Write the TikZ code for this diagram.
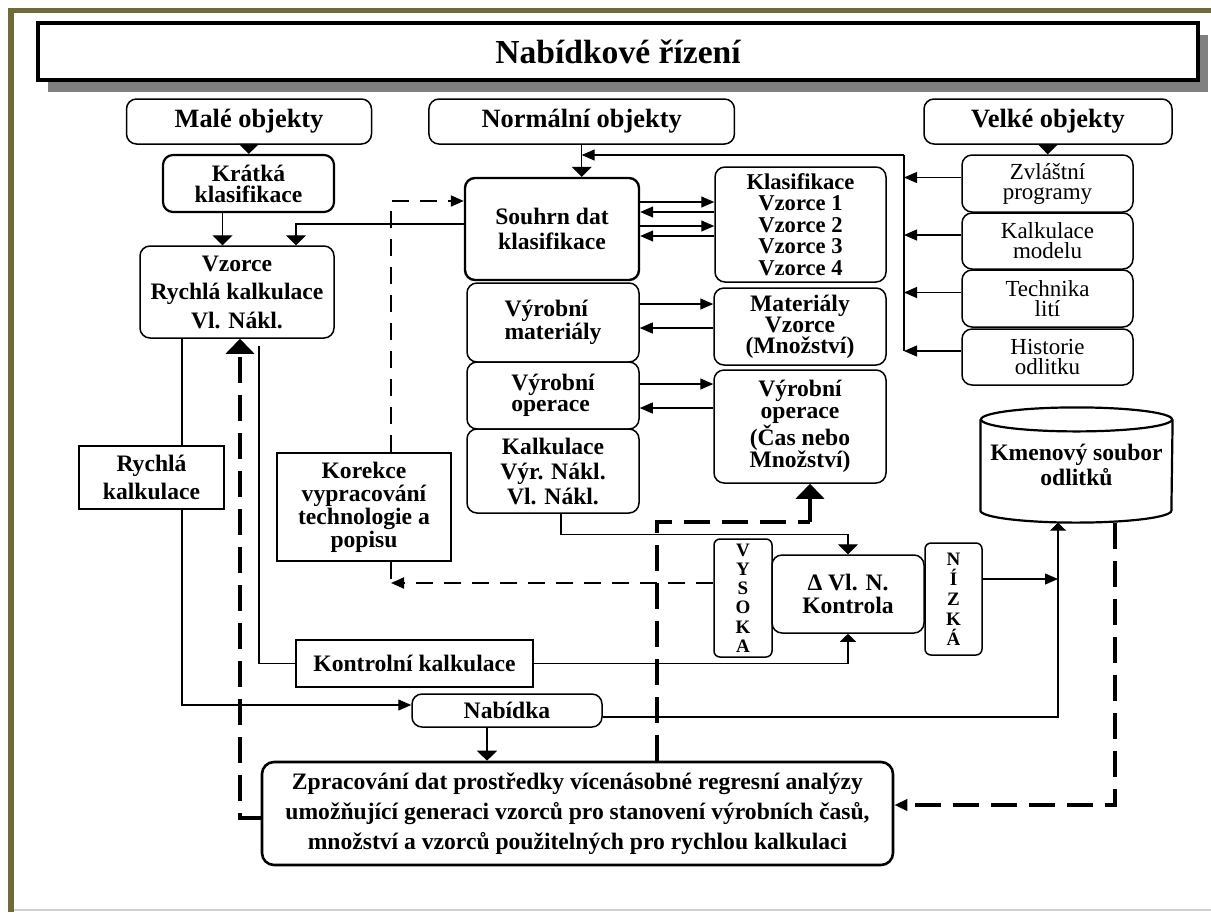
\documentclass[tikz,border=0pt]{standalone}
\usepackage{fontspec}
\setmainfont{Liberation Serif}
\usetikzlibrary{arrows.meta,shadows}
\definecolor{framegreen}{RGB}{110,107,56}

\begin{document}
\begin{tikzpicture}[x=0.5pt, y=-0.5pt, line width=0.6pt,
    bx/.style={draw, line width=0.75pt, align=center, inner sep=1pt,
      font=\bfseries\fontsize{11.8}{#1}\selectfont},
    bx/.default=10.5,
    rbx/.style={bx=#1, rounded corners=5pt},
    rbx/.default=10.5,
    sbx/.style={bx=#1},
    sbx/.default=10.5,
    hbx/.style={rbx, minimum height=22.5pt, font=\bfseries\fontsize{13.2}{15}\selectfont},
    pbx/.style={rbx, minimum width=85.5pt, font=\fontsize{11.5}{10}\selectfont},
    lbx/.style={rbx=#1, rounded corners=3pt, inner sep=0.5pt,
      font=\bfseries\fontsize{9.5}{#1}\selectfont},
    titlebox/.style={draw, fill=white, line width=1.6pt,
      font=\bfseries\fontsize{16.8}{19}\selectfont,
      drop shadow={shadow xshift=5pt, shadow yshift=-6pt, fill=black!50, opacity=1}},
    arr/.style={-{Triangle[length=5pt,width=10pt]}},
    marr/.style={-{Triangle[length=4pt,width=8pt]}},
    sarr/.style={-{Triangle[length=6.5pt,width=5.5pt]}},
    sarl/.style={{Triangle[length=6.5pt,width=5.5pt]}-},
    bigtip/.style={-{Triangle[length=7.5pt,width=14pt]}},
    tdash/.style={line width=1pt, dash pattern=on 8.5pt off 5.5pt},
    tkdash/.style={line width=2pt, dash pattern=on 13pt off 6pt}]

  \useasboundingbox (0,0) rectangle (1211,912);

  % frame
  \draw[framegreen, line width=2.6pt] (11,912) -- (11,10.5) -- (1211,10.5);
  \draw[black!18, line width=1.2pt] (14,910) -- (1211,910);

  % title
  \node[titlebox, minimum width=580pt, minimum height=28.5pt] (title) at (618,51.5) {Nabídkové řízení};

  % headers
  \node[hbx, minimum width=122.5pt] (male) at (249,121.5) {Malé objekty};
  \node[hbx, minimum width=152.75pt] (norm) at (581.7,121.5) {Normální objekty};
  \node[hbx, minimum width=124pt] (velk) at (1048,121.5) {Velké objekty};

  % left column
  \node[rbx, line width=1.1pt, minimum width=85.5pt, minimum height=28.5pt] (krat) at (248.5,183.5) {Krátká\\klasifikace};
  \node[rbx=14.25, minimum width=97pt, minimum height=46pt] (vzor) at (237,292) {Vzorce\\Rychlá kalkulace\\Vl. Nákl.};
  \node[sbx=14, minimum width=72.5pt, minimum height=31.5pt] (rych) at (151.5,477.5) {Rychlá\\kalkulace};
  \node[sbx=11.5, minimum width=87pt, minimum height=54pt] (kor) at (364,507) {Korekce\\vypracování\\technologie a\\popisu};
  \node[sbx, minimum width=118.5pt, minimum height=23.5pt] (kont) at (414.5,663.5) {Kontrolní kalkulace};
  \node[rbx, minimum width=95pt, minimum height=16.5pt] (nab) at (507,710.5) {Nabídka};
  \node[rbx=15, line width=1.3pt, rounded corners=6pt, minimum width=315.5pt, minimum height=51.5pt] (zpr) at (577.5,813.5)
    {Zpracování dat prostředky vícenásobné regresní analýzy\\umožňující generaci vzorců pro stanovení výrobních časů,\\množství a vzorců použitelných pro rychlou kalkulaci};

  % middle column
  \node[rbx=12.5, line width=1.2pt, minimum width=87pt, minimum height=51pt] (souhrn) at (552,229) {Souhrn dat\\klasifikace};
  \node[rbx=10.8, font=\bfseries\fontsize{11.3}{10.8}\selectfont, minimum width=85.5pt, minimum height=57.5pt] (klas) at (800.5,224.5) {Klasifikace\\Vzorce 1\\Vzorce 2\\Vzorce 3\\Vzorce 4};
  \node[rbx=10.5, align=left, minimum width=86pt, minimum height=39.5pt] (vmat) at (553,322.5) {Výrobní\\materiály};
  \node[rbx=10.5, minimum width=86pt, minimum height=38.5pt] (mvz) at (800,326.5) {Materiály\\Vzorce\\(Množství)};
  \node[rbx=10.5, align=left, minimum width=86pt, minimum height=33.5pt] (vop) at (553,395.5) {Výrobní\\operace};
  \node[rbx=11, minimum width=86pt, minimum height=56.5pt] (vopr) at (800,426.5) {Výrobní\\operace\\(Čas nebo\\Množství)};
  \node[rbx=12.5, minimum width=86pt, minimum height=42pt] (kalk) at (553,471) {Kalkulace\\Výr. Nákl.\\Vl. Nákl.};

  % right column
  \node[pbx, minimum height=28.5pt] (zvl) at (1047.5,183.5) {Zvláštní\\programy};
  \node[pbx, minimum height=28pt] (kmod) at (1047.5,241) {Kalkulace\\modelu};
  \node[pbx, minimum height=28.5pt] (tech) at (1047.5,298.5) {Technika\\lití};
  \node[pbx, minimum height=28pt] (hist) at (1047.5,357) {Historie\\odlitku};

  % cylinder
  \node[align=center, inner sep=0pt, font=\bfseries\fontsize{11.8}{10.5}\selectfont,
    minimum width=95.5pt, minimum height=57pt] (cyl) at (1076.5,465) {Kmenový soubor\\odlitků};
  \draw[line width=1.1pt] ([yshift=-6pt]cyl.north) ellipse [x radius=47.75pt, y radius=6pt];
  \draw[line width=1.1pt] ([yshift=-6pt]cyl.north west) -- ([yshift=6pt]cyl.south west)
    arc[start angle=180, end angle=360, x radius=47.75pt, y radius=6pt] -- ([yshift=-6pt]cyl.north east);

  % control
  \node[lbx=9.6, minimum width=29pt, minimum height=59pt] (vys) at (743,598) {V\\Y\\S\\O\\K\\A};
  \node[rbx=11.5, minimum width=76pt, minimum height=39pt] (kon) at (848,594) {Δ Vl. N.\\Kontrola};
  \node[lbx=10, minimum width=28.5pt, minimum height=56pt] (niz) at (953.5,599) {N\\Í\\Z\\K\\Á};

  % connectors: headers
  \draw[arr] (male) -- (krat);
  \draw[arr] (norm.south) -- (norm.south |- souhrn.north);
  \draw[arr] (velk) -- (zvl);

  \coordinate (k1) at ([xshift=-13pt]krat.south);
  \draw[arr] (k1) -- (k1 |- vzor.north);
  \coordinate (s1) at ([yshift=2.5pt]souhrn.west);
  \coordinate (v1) at ([xshift=29.5pt]vzor.north);
  \draw[arr] (s1) -| (v1);

  % bus from the right boxes
  \coordinate (bustop) at (904,155);
  \foreach \b in {zvl,kmod,tech,hist}{
    \coordinate (p) at ([yshift=3pt]\b.west);
    \draw[sarl] (p -| bustop) -- (p);
  }
  \coordinate (hb) at ([yshift=3pt]hist.west);
  \draw (bustop) -- (bustop |- hb);
  \draw[sarr] (bustop) -- (bustop -| norm.south);

  % middle column arrows
  \foreach \dy/\st in {13.5/sarr, 8.5/sarl, 1.5/sarr, -3.5/sarl}{
    \coordinate (p) at ([yshift=\dy pt]souhrn.east);
    \draw[\st] (p) -- (p -| klas.west);
  }
  \foreach \dy/\st in {9.25/sarr, -2.75/sarl}{
    \coordinate (p) at ([yshift=\dy pt]vmat.east);
    \draw[\st] (p) -- (p -| mvz.west);
  }
  \foreach \dy/\st in {5.75/sarr, -6.25/sarl}{
    \coordinate (p) at ([yshift=\dy pt]vop.east);
    \draw[\st] (p) -- (p -| vopr.west);
  }
  \coordinate (kl) at ([xshift=4pt]kalk.south);
  \draw[arr] (kl) -- ++(0,21) -| (kon.north);

  % left column lines
  \coordinate (v2) at ([xshift=-27.5pt]vzor.south);
  \draw (v2) -- (v2 |- rych.north);
  \coordinate (r1) at ([xshift=15.25pt]rych.south);
  \coordinate (n1) at ([yshift=2.75pt]nab.west);
  \draw[sarr] (r1) |- (n1);
  \coordinate (v3) at ([xshift=11pt,yshift=-3.5pt]vzor.south);
  \draw (v3) |- (kont.west);
  \draw[marr] (kont.east) -| (kon.south);

  % offer
  \coordinate (n2) at ([xshift=-10pt]nab.south);
  \draw[arr] (n2) -- (n2 |- zpr.north);
  \coordinate (n3) at ([yshift=-3.25pt]nab.east);
  \coordinate (c1) at ([xshift=-9.25pt]cyl.south);
  \draw[marr] (n3) -| (c1);
  \coordinate (z1) at ([yshift=10pt]niz.east);
  \draw[sarr] (z1) -- (z1 -| c1);

  % thick dashed feedback
  \coordinate (c2) at ([xshift=19.25pt]cyl.south);
  \coordinate (z2) at ([yshift=4.25pt]zpr.east);
  \draw[tkdash, sarr] (c2) |- (z2);
  \coordinate (z3) at ([xshift=39.75pt]zpr.north);
  \coordinate (t1) at ([xshift=5pt]vopr.south);
  \coordinate (t2) at ([yshift=-19pt]t1);
  \draw[tkdash] (z3) |- (t2);
  \draw[line width=2pt, bigtip] (t2) -- (t1);
  \coordinate (z4) at ([yshift=-2.25pt]zpr.west);
  \coordinate (v4) at ([xshift=1.5pt]vzor.south);
  \draw[tkdash, bigtip] (z4) -| (v4);

  % thin dashed correction loop
  \coordinate (y1) at ([yshift=7.5pt]vys.west);
  \coordinate (k2) at ([xshift=13.5pt]kor.south);
  \draw[tdash, sarr] (y1) -- (y1 -| k2);
  \draw[tdash] (k2) -- (y1 -| k2);
  \coordinate (k3) at ([xshift=13.5pt]kor.north);
  \coordinate (s2) at ([yshift=14pt]souhrn.west);
  \draw[tdash, sarr] (k3) |- (s2);
\end{tikzpicture}
\end{document}
